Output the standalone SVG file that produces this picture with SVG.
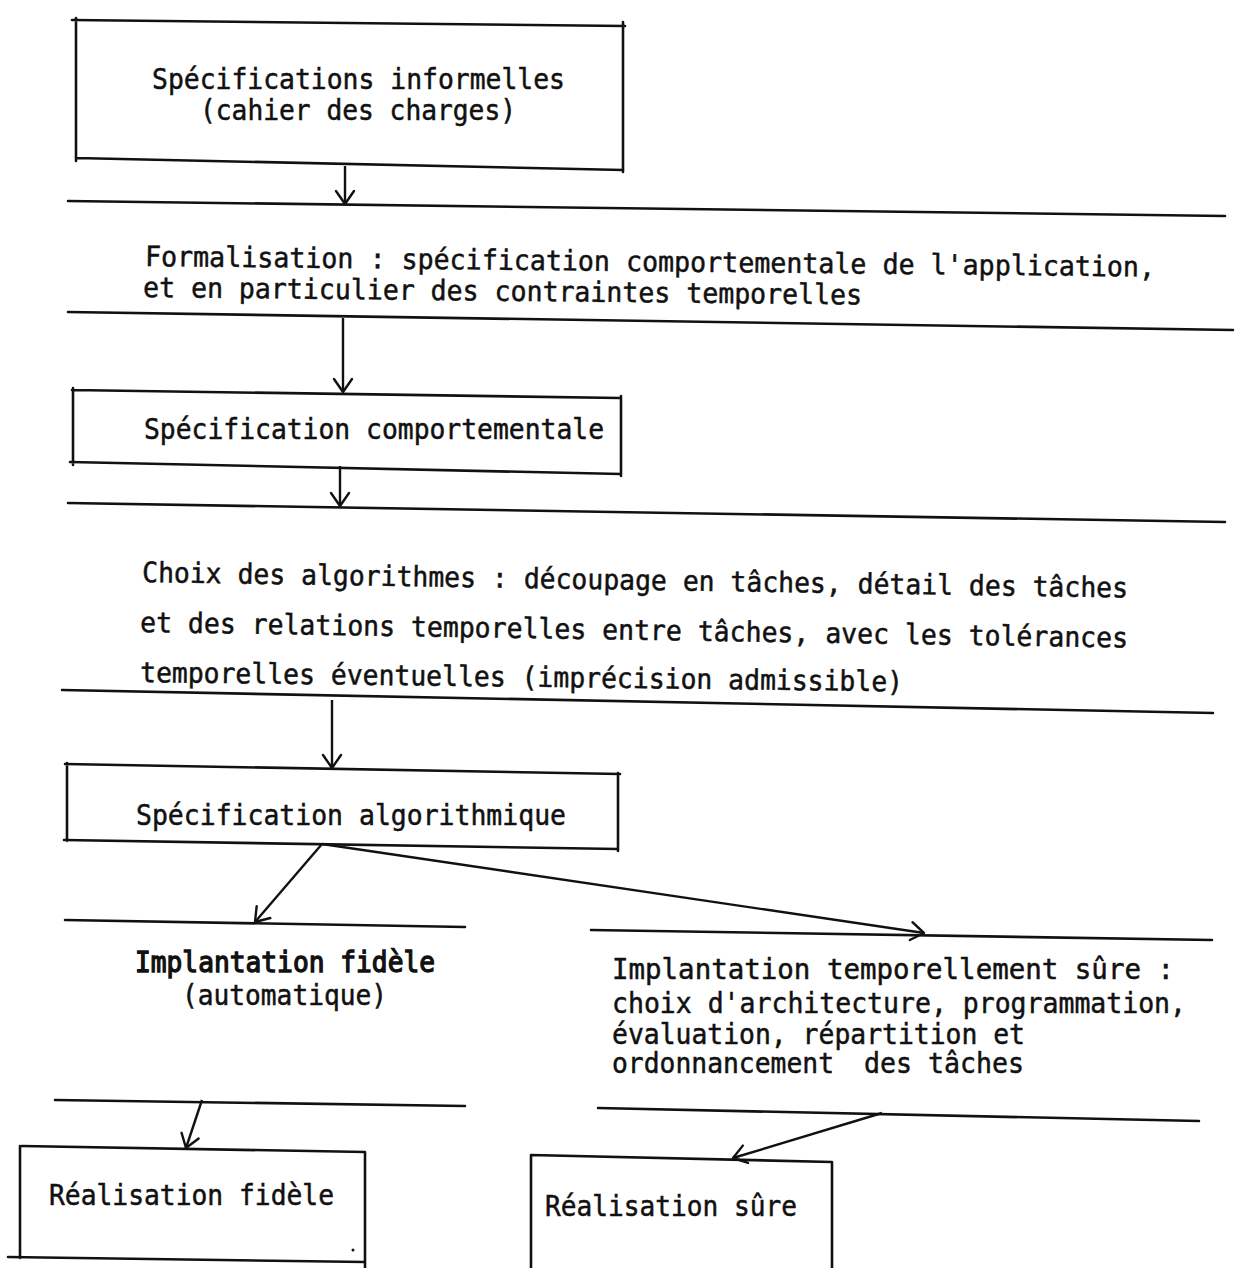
<svg xmlns="http://www.w3.org/2000/svg" width="1239" height="1268" viewBox="0 0 1239 1268">
  <defs>
    <style>
      .ln { fill: none; stroke: #111; stroke-width: 2.6; stroke-linecap: round; }
      .tx { font-family: "DejaVu Sans Mono", "Liberation Mono", monospace; font-size: 28px; fill: #111; stroke: #111; stroke-width: 0.5; }
      .bd { stroke-width: 1.3; }
      .cn { fill: none; stroke: #111; stroke-width: 2.4; marker-end: url(#chev); }
    </style>
    <marker id="chev" markerUnits="userSpaceOnUse" viewBox="-16 -11 18 22" refX="0" refY="0" markerWidth="18" markerHeight="22" orient="auto">
      <path d="M-13,-9 L0,0 L-13,9" fill="none" stroke="#111" stroke-width="2.4" stroke-linecap="round" stroke-linejoin="round"/>
    </marker>
  </defs>
  <rect width="1239" height="1268" fill="#fff"/>

  <!-- informal specification box -->
  <g id="box-informal">
    <path class="ln" d="M72,20 L625,26 M76,18 L76,161 M623,22 L623,172 M76,158 L623,170"/>
    <text class="tx" x="152" y="89" textLength="413" lengthAdjust="spacingAndGlyphs">Spécifications informelles</text>
    <text class="tx" x="200" y="120" textLength="316" lengthAdjust="spacingAndGlyphs">(cahier des charges)</text>
  </g>

  <!-- formalisation band -->
  <g id="band-formalisation">
    <path class="ln" d="M68,201 L1225,216 M68,312 L1233,330"/>
    <text class="tx" x="145" y="266" textLength="1010" lengthAdjust="spacingAndGlyphs" transform="rotate(0.6 145 266)">Formalisation : spécification comportementale de l'application,</text>
    <text class="tx" x="143" y="297" textLength="719" lengthAdjust="spacingAndGlyphs" transform="rotate(0.6 143 297)">et en particulier des contraintes temporelles</text>
  </g>

  <!-- behavioural specification box -->
  <g id="box-comportementale">
    <path class="ln" d="M72,390 L620,398 M73,388 L73,465 M621,396 L621,476 M70,462 L621,474"/>
    <text class="tx" x="144" y="439" textLength="460" lengthAdjust="spacingAndGlyphs">Spécification comportementale</text>
  </g>

  <!-- algorithm choice band -->
  <g id="band-algorithmes">
    <path class="ln" d="M68,503 L1225,522 M62,690 L1213,713"/>
    <text class="tx" x="142" y="582" textLength="986" lengthAdjust="spacingAndGlyphs" transform="rotate(0.9 142 582)">Choix des algorithmes : découpage en tâches, détail des tâches</text>
    <text class="tx" x="140" y="632" textLength="988" lengthAdjust="spacingAndGlyphs" transform="rotate(0.9 140 632)">et des relations temporelles entre tâches, avec les tolérances</text>
    <text class="tx" x="140" y="682" textLength="763" lengthAdjust="spacingAndGlyphs" transform="rotate(0.7 140 682)">temporelles éventuelles (imprécision admissible)</text>
  </g>

  <!-- algorithmic specification box -->
  <g id="box-algorithmique">
    <path class="ln" d="M65,764 L620,774 M67,763 L67,841 M618,773 L618,851 M64,840 L618,849"/>
    <text class="tx" x="136" y="825" textLength="430" lengthAdjust="spacingAndGlyphs">Spécification algorithmique</text>
  </g>

  <!-- faithful implementation band -->
  <g id="band-fidele">
    <path class="ln" d="M65,920 L465,927 M55,1100 L465,1106"/>
    <text class="tx bd" x="135" y="972" textLength="300" lengthAdjust="spacingAndGlyphs">Implantation fidèle</text>
    <text class="tx" x="182" y="1005" textLength="205" lengthAdjust="spacingAndGlyphs">(automatique)</text>
  </g>

  <!-- temporally safe implementation band -->
  <g id="band-sure">
    <path class="ln" d="M591,930 L1212,940 M598,1108 L1199,1121"/>
    <text class="tx" x="612" y="979" textLength="562" lengthAdjust="spacingAndGlyphs">Implantation temporellement sûre :</text>
    <text class="tx" x="612" y="1013" textLength="574" lengthAdjust="spacingAndGlyphs">choix d'architecture, programmation,</text>
    <text class="tx" x="612" y="1044" textLength="413" lengthAdjust="spacingAndGlyphs">évaluation, répartition et</text>
    <text class="tx" y="1073"><tspan x="612" textLength="222" lengthAdjust="spacingAndGlyphs">ordonnancement</tspan><tspan x="864" textLength="160" lengthAdjust="spacingAndGlyphs">des tâches</tspan></text>
  </g>

  <!-- faithful realisation box -->
  <g id="box-realisation-fidele">
    <path class="ln" d="M22,1146 L365,1152 M20,1146 L20,1258 M365,1152 L365,1268 M8,1257 L365,1262"/>
    <circle cx="353" cy="1250" r="1.5" fill="#111"/>
    <text class="tx" x="49" y="1205" textLength="285" lengthAdjust="spacingAndGlyphs">Réalisation fidèle</text>
  </g>

  <!-- safe realisation box -->
  <g id="box-realisation-sure">
    <path class="ln" d="M531,1155 L832,1162 M531,1155 L531,1268 M832,1162 L832,1268"/>
    <text class="tx" x="545" y="1216" textLength="252" lengthAdjust="spacingAndGlyphs">Réalisation sûre</text>
  </g>

  <!-- connectors -->
  <g id="connectors">
    <path class="cn" d="M345,166 L345,204"/>
    <path class="cn" d="M343,318 L343,392"/>
    <path class="cn" d="M340,466 L340,506"/>
    <path class="cn" d="M332,700 L332,768"/>
    <path class="cn" d="M322,844 L255,922"/>
    <path class="cn" d="M322,844 L924,933"/>
    <path class="cn" d="M202,1100 L186,1148"/>
    <path class="cn" d="M882,1113 L733,1158"/>
  </g>
</svg>
